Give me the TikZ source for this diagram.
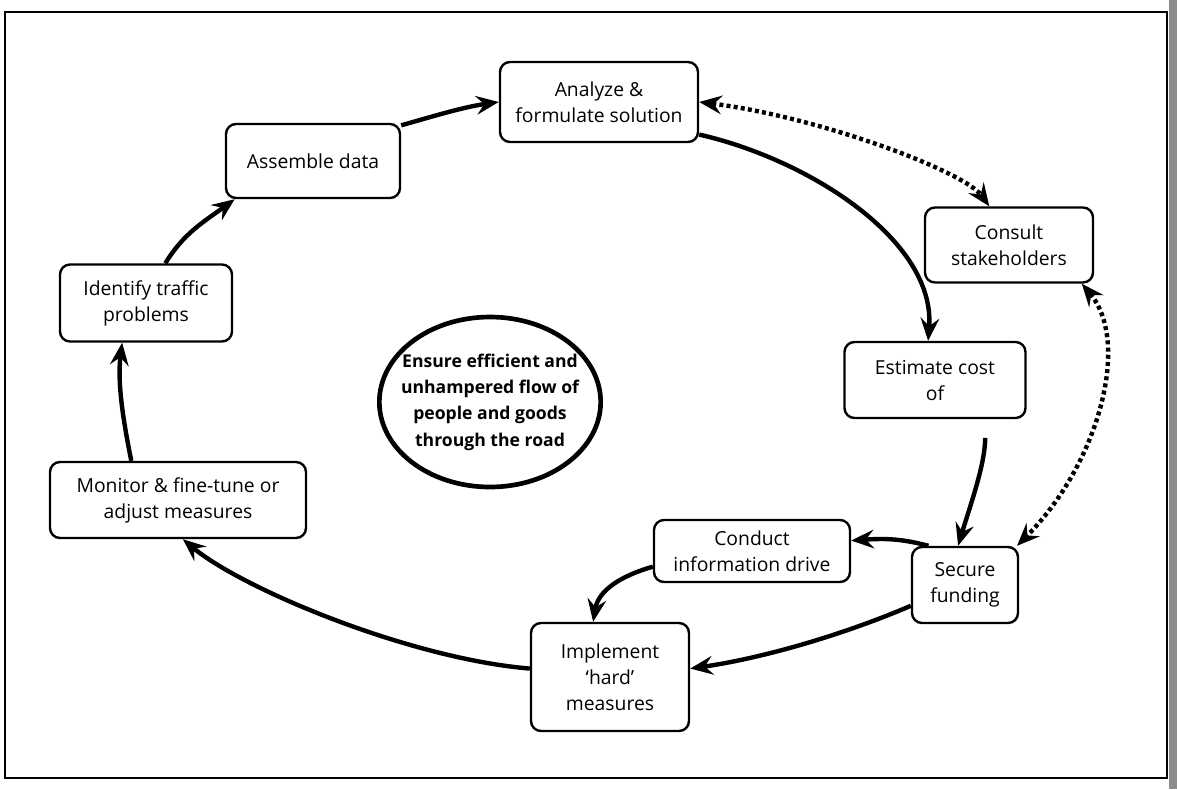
\documentclass[tikz,border=0pt]{standalone}
\usepackage{fontspec}
\setmainfont{Open Sans}
\usetikzlibrary{arrows.meta,shapes.geometric}

\begin{document}
\begin{tikzpicture}[x=0.75pt,y=0.75pt,yscale=-1,xscale=1,
  stepbox/.style={draw,line width=1.8pt,rounded corners=7.5pt,align=center,inner sep=0pt,font=\fontsize{14.5}{19.5}\selectfont},
  goal/.style={draw,ellipse,line width=3.5pt,inner sep=0pt},
  goaltext/.style={align=center,inner sep=0pt,font=\fontsize{13.2}{19.7}\selectfont\bfseries},
  flow/.style={line width=3.3pt,-{Stealth[length=17pt,width=14pt,inset=6pt]}},
  talk/.style={line width=3.3pt,dash pattern=on 3pt off 2.4pt,{Stealth[length=17pt,width=14pt,inset=6pt]}-{Stealth[length=17pt,width=14pt,inset=6pt]}}]
\useasboundingbox (0,0) rectangle (1177,789);

%Shape: Frame
\draw[line width=1.5pt] (5,12) rectangle (1167,778);
\fill[black!45] (1169,0) rectangle (1177,789);

%Shape: Ellipse [goal]
\node[goal,minimum width=166pt,minimum height=127.5pt] (goal) at (490,402) {};
% Text Node
\node[goaltext] (goaltxt) at (goal) {Ensure efficient and\\unhampered flow of\\people and goods\\through the road};

%Shape: Rounded Rect [steps]
\node[stepbox,minimum width=148.5pt,minimum height=60pt] (analyze) at (599,102) {Analyze \&\\formulate solution};
\node[stepbox,minimum width=130.5pt,minimum height=55.5pt] (assemble) at (313,161) {Assemble data};
\node[stepbox,minimum width=129pt,minimum height=57.75pt] (identify) at (146,303) {Identify traffic\\problems};
\node[stepbox,minimum width=192pt,minimum height=57pt] (monitor) at (178,500) {Monitor \& fine-tune or\\adjust measures};
\node[stepbox,minimum width=118.5pt,minimum height=81pt] (implement) at (610,677) {Implement\\`hard'\\measures};
\node[stepbox,minimum width=147pt,minimum height=46.5pt] (conduct) at (752,551) {Conduct\\information drive};
\node[stepbox,minimum width=79.5pt,minimum height=57pt] (secure) at (965,585) {Secure\\funding};
\node[stepbox,minimum width=135.75pt,minimum height=57pt] (estimate) at (935,380) {Estimate cost\\of};
\node[stepbox,minimum width=126pt,minimum height=56.25pt] (consult) at (1009,245) {Consult\\stakeholders};

%Curves: main cycle
\draw[flow] (monitor.140) .. controls +(-8,-40) and +(-5,40) .. (identify.239);
\draw[flow] (identify.64) .. controls +(18,-30) and +(-30,22) .. (assemble.206);
\draw[flow] (assemble.22) .. controls +(35,-10) and +(-35,5) .. (analyze.west);
\draw[flow] (analyze.-18) .. controls +(110,25) and +(8,-100) .. (estimate.100);
\draw[flow,shorten <=14pt] (estimate.-38) .. controls +(0,45) and +(12,-40) .. (secure.100);
\draw[flow] (secure.133) .. controls +(-30,-8) and +(30,-2) .. (conduct.6);
\draw[flow] (conduct.189) .. controls +(-35,10) and +(5,-30) .. (implement.107);
\draw[flow] (secure.201) .. controls +(-70,30) and +(70,-10) .. (implement.6);
\draw[flow] (implement.174) .. controls +(-120,-10) and +(60,50) .. (monitor.-83);

%Curves: dotted links to stakeholders
\draw[talk] (analyze.east) .. controls +(120,15) and +(-25,-35) .. (consult.117);
\draw[talk] (consult.-28) .. controls +(50,60) and +(80,-80) .. (secure.37);

\end{tikzpicture}
\end{document}
